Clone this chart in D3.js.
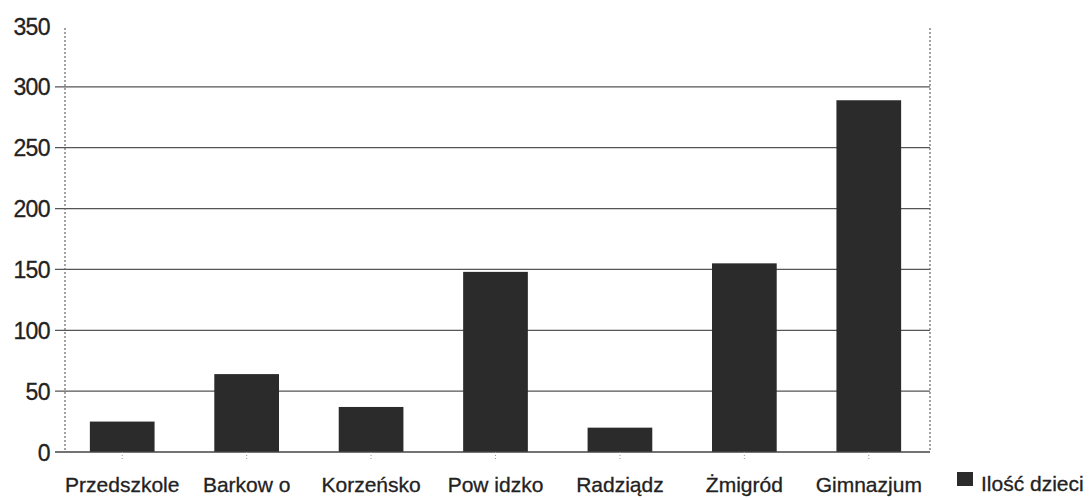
<!DOCTYPE html>
<html>
<head>
<meta charset="utf-8">
<script src="https://cdn.jsdelivr.net/npm/d3@7"></script>
<style>
  html, body { margin: 0; padding: 0; background: #fff; }
  svg { display: block; }
  text { font-family: "Liberation Sans", Arial, sans-serif; fill: #222; }
</style>
</head>
<body>
<svg id="chart" width="1091" height="500"></svg>
<script>
const categories = ["Przedszkole", "Barkow o", "Korzeńsko", "Pow idzko", "Radziądz", "Żmigród", "Gimnazjum"];
const values = [25, 64, 37, 148, 20, 155, 289];
const yTicks = [0, 50, 100, 150, 200, 250, 300, 350];
const seriesName = "Ilość dzieci";

const svg = d3.select("#chart");
const x = d3.scaleBand().domain(categories).range([60, 931]).paddingInner(0.48).paddingOuter(0.24);
const y = d3.scaleLinear().domain([0, 350]).range([452, 26]);

// gridlines (not at 0 / 350)
svg.append("g").selectAll("line").data(yTicks.filter(t => t > 0 && t < 350)).join("line")
  .attr("x1", 55).attr("x2", 930)
  .attr("y1", d => y(d)).attr("y2", d => y(d))
  .attr("stroke", "#555").attr("stroke-width", 1.2);

// dotted side lines
[65, 930].forEach(px => {
  svg.append("line").attr("x1", px).attr("x2", px).attr("y1", 28).attr("y2", y(0))
    .attr("stroke", "#666").attr("stroke-width", 1.2).attr("stroke-dasharray", "2,2");
});

// bars
svg.append("g").selectAll("rect").data(values).join("rect")
  .attr("x", (d, i) => x(categories[i]))
  .attr("width", x.bandwidth())
  .attr("y", d => y(d))
  .attr("height", d => y(0) - y(d))
  .attr("fill", "#2b2b2b");

// y axis labels
const yAxis = d3.axisLeft(y).tickValues(yTicks).tickSize(0).tickPadding(0);
const gy = svg.append("g").attr("transform", "translate(50,0)").call(yAxis);
gy.select(".domain").remove();
gy.selectAll("text").attr("font-size", 23).attr("letter-spacing", -0.6).attr("dy", "0.35em")
  .attr("fill", "#222").attr("stroke", "#222").attr("stroke-width", 0.3);

// x axis
const xAxis = d3.axisBottom(x).tickSize(8).tickPadding(17);
const gx = svg.append("g").attr("transform", `translate(0,${y(0)})`).call(xAxis);
gx.select(".domain").attr("d", "M55,0H930").attr("stroke", "#444").attr("stroke-width", 1.5);
gx.selectAll(".tick line").attr("stroke", "#999").attr("stroke-dasharray", "1,2");
gx.selectAll("text").attr("font-size", 21).attr("fill", "#222")
  .attr("stroke", "#222").attr("stroke-width", 0.3);

// legend
const lg = svg.append("g").attr("transform", "translate(957,472)");
lg.append("rect").attr("width", 16).attr("height", 14).attr("fill", "#2b2b2b");
lg.append("text").attr("x", 24).attr("y", 19).attr("font-size", 21)
  .attr("stroke", "#222").attr("stroke-width", 0.3).text(seriesName);
</script>
</body>
</html>
